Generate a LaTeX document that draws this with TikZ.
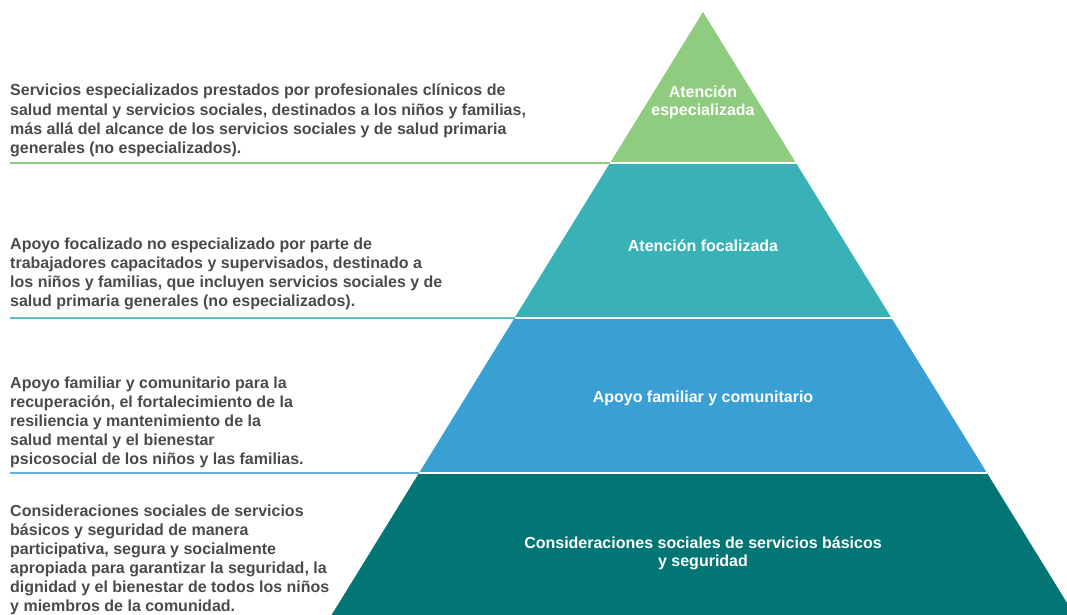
\documentclass[tikz,border=0pt]{standalone}
\usepackage{fontspec}
\setmainfont{Liberation Sans}
\usepackage{xcolor}
\usetikzlibrary{positioning}

\definecolor{lvlgreen}{HTML}{8FCC7F}
\definecolor{lvlteal}{HTML}{38B1B7}
\definecolor{lvlblue}{HTML}{3A9FD2}
\definecolor{lvldark}{HTML}{047575}
\definecolor{txtgray}{HTML}{4A4A4A}

\begin{document}
\begin{tikzpicture}[
  x=1pt, y=-1pt,
  desc/.style={anchor=base west, align=left, inner sep=0pt, text=txtgray,
    font=\fontsize{16}{19}\selectfont\bfseries},
  lbl/.style={anchor=base, align=center, inner sep=0pt, text=white,
    font=\fontsize{16}{18}\selectfont\bfseries},
  lead/.style={line width=2pt},
  sep/.style={white, line width=1.5pt}
]
  \clip (0,0) rectangle (1067,615);

  % pyramid corners
  \coordinate (apex) at (703,12);
  \coordinate (spec-l) at (610,163);   \coordinate (spec-r) at (796,163);
  \coordinate (foc-l) at (514.5,318);  \coordinate (foc-r) at (891.5,318);
  \coordinate (fam-l) at (419,473);    \coordinate (fam-r) at (987,473);
  \coordinate (base-l) at (322.3,630); \coordinate (base-r) at (1083.7,630);

  % levels
  \fill[lvlgreen] (apex) -- (spec-r) -- (spec-l) -- cycle;
  \fill[lvlteal] (spec-l) -- (spec-r) -- (foc-r) -- (foc-l) -- cycle;
  \fill[lvlblue] (foc-l) -- (foc-r) -- (fam-r) -- (fam-l) -- cycle;
  \fill[lvldark] (fam-l) -- (fam-r) -- (base-r) -- (base-l) -- cycle;
  \draw[sep] (spec-l) -- (spec-r);
  \draw[sep] (foc-l) -- (foc-r);
  \draw[sep] (fam-l) -- (fam-r);

  % level labels (base = last line)
  \node[lbl] (spec-lbl) at (703,116) {Atención\\especializada};
  \node[lbl] (foc-lbl) at (703,251) {Atención focalizada};
  \node[lbl] (fam-lbl) at (703,402) {Apoyo familiar y comunitario};
  \node[lbl] (base-lbl) at (703,566) {Consideraciones sociales de servicios básicos\\y seguridad};

  % descriptions (base = last line)
  \node[desc] (spec-desc) at (10,153) {Servicios especializados prestados por profesionales clínicos de\\
    salud mental y servicios sociales, destinados a los niños y familias,\\
    más allá del alcance de los servicios sociales y de salud primaria\\
    generales (no especializados).};
  \node[desc] (foc-desc) at (10,306) {Apoyo focalizado no especializado por parte de\\
    trabajadores capacitados y supervisados, destinado a\\
    los niños y familias, que incluyen servicios sociales y de\\
    salud primaria generales (no especializados).};
  \node[desc] (fam-desc) at (10,464) {Apoyo familiar y comunitario para la\\
    recuperación, el fortalecimiento de la\\
    resiliencia y mantenimiento de la\\
    salud mental y el bienestar\\
    psicosocial de los niños y las familias.};
  \node[desc] (base-desc) at (10,611) {Consideraciones sociales de servicios\\
    básicos y seguridad de manera\\
    participativa, segura y socialmente\\
    apropiada para garantizar la seguridad, la\\
    dignidad y el bienestar de todos los niños\\
    y miembros de la comunidad.};

  % leader lines
  \coordinate (spec-end) at (10,163);
  \coordinate (foc-end) at (10,318);
  \coordinate (fam-end) at (10,473);
  \draw[lead, lvlgreen] (spec-end) -- (spec-l);
  \draw[lead, lvlteal!80!white] (foc-end) -- (foc-l);
  \draw[lead, lvlblue!80!white] (fam-end) -- (fam-l);
\end{tikzpicture}
\end{document}
